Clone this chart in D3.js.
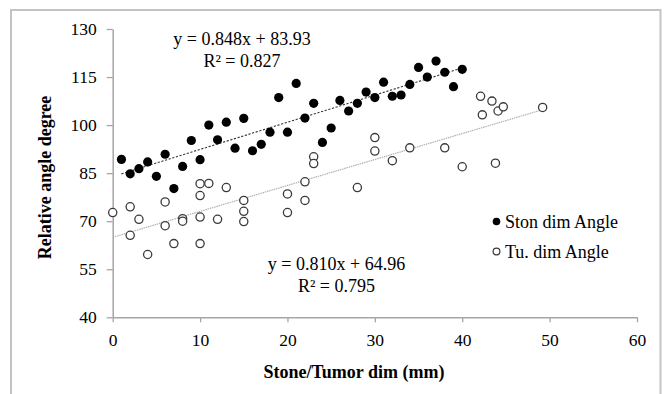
<!DOCTYPE html>
<html>
<head>
<meta charset="utf-8">
<script src="https://cdn.jsdelivr.net/npm/d3@7/dist/d3.min.js"></script>
<style>
  html, body { margin: 0; padding: 0; background: #fff; }
  svg { display: block; }
  text { font-family: "Liberation Serif", "Times New Roman", serif; fill: #000; }
</style>
</head>
<body>
<svg id="chart" width="665" height="394"></svg>
<script>
// ---- Data ----
const stonX = [1,2,3,4,5,6,7,8,9,10,11,12,13,14,15,16,17,18,19,20,21,22,23,24,25,26,27,28,29,30,31,32,33,34,35,36,37,38,39,40];
const stonY = [89.3,84.8,86.4,88.5,84.0,90.9,80.2,87.1,95.2,89.2,100.0,95.4,100.9,92.8,102.1,92.0,94.0,97.8,108.6,97.8,113.0,102.2,106.8,94.6,99.1,107.7,104.4,106.8,110.3,108.6,113.4,109.0,109.4,112.7,118.0,115.0,120.0,116.5,112.0,117.4];
const tuX = [0,2,2,3,4,6,6,7,8,8,10,10,10,10,11,12,13,15,15,15,20,20,22,22,23,23,28,30,30,32,34,38,40,42.1,42.3,43.4,43.8,44.1,44.7,49.2];
const tuY = [72.7,74.5,65.6,70.6,59.6,76.0,68.6,63.0,70.8,70.0,81.7,78.0,71.3,63.0,81.8,70.6,80.5,76.5,73.1,69.9,78.5,72.7,82.3,76.5,90.1,88.0,80.5,96.1,91.9,88.9,92.9,92.9,87.0,109.0,103.2,107.5,88.1,104.4,105.7,105.5];
const seriesNames = ["Ston dim Angle", "Tu. dim Angle"];
const trendSlope = [0.848, 0.810];
const trendIntercept = [83.93, 64.96];
const trendLabels = ["y = 0.848x + 83.93", "y = 0.810x + 64.96"];
const r2Labels = ["R\u00B2 = 0.827", "R\u00B2 = 0.795"];
const xTicks = [0,10,20,30,40,50,60];
const yTicks = [40,55,70,85,100,115,130];
const xTitle = "Stone/Tumor dim (mm)";
const yTitle = "Relative angle degree";

// ---- Layout ----
const svg = d3.select("#chart");
const L = 112.7, R = 637, T = 29, B = 317.3;
const x = d3.scaleLinear().domain([0, 60]).range([L, R]);
const y = d3.scaleLinear().domain([40, 130]).range([B, T]);
const serif = '"Liberation Serif", "Times New Roman", serif';

// outer border
svg.append("rect").attr("x", 11).attr("y", 10).attr("width", 649.5).attr("height", 400)
  .attr("fill", "none").attr("stroke", "#c3c3c3").attr("stroke-width", 2);

const axisColor = "#a6a6a6";
// x axis
const gx = svg.append("g").attr("transform", `translate(0,${B})`)
  .call(d3.axisBottom(x).tickValues(xTicks).tickSize(5).tickSizeOuter(0).tickPadding(11));
// y axis
const gy = svg.append("g").attr("transform", `translate(${L},0)`)
  .call(d3.axisLeft(y).tickValues(yTicks).tickSize(6).tickSizeOuter(0).tickPadding(10));
[gx, gy].forEach(g => {
  g.attr("font-family", null);
  g.select(".domain").attr("stroke", axisColor).attr("stroke-width", 1.5);
  g.selectAll(".tick line").attr("stroke", axisColor).attr("stroke-width", 1.3);
  g.selectAll(".tick text").style("font-family", serif).style("font-size", "17.5px").attr("fill", "#000");
});

// trend lines
const extents = [d3.extent(stonX), d3.extent(tuX)];
const trendStyles = [
  {stroke: "#333", dash: "2.2,1.6", width: 1.1},
  {stroke: "#b0b0b0", dash: "1.5,0.8", width: 1.2}
];
[0,1].forEach(i => {
  const ext = extents[i];
  svg.append("line")
    .attr("x1", x(ext[0])).attr("y1", y(trendSlope[i]*ext[0] + trendIntercept[i]))
    .attr("x2", x(ext[1])).attr("y2", y(trendSlope[i]*ext[1] + trendIntercept[i]))
    .attr("stroke", trendStyles[i].stroke).attr("stroke-width", trendStyles[i].width)
    .attr("stroke-dasharray", trendStyles[i].dash);
});

// points
const tuData = tuX.map((d, i) => [d, tuY[i]]);
const stonData = stonX.map((d, i) => [d, stonY[i]]);
svg.append("g").selectAll("circle").data(tuData).join("circle")
  .attr("cx", d => x(d[0])).attr("cy", d => y(d[1])).attr("r", 4.1)
  .attr("fill", "#fff").attr("stroke", "#3a3a3a").attr("stroke-width", 1.3);
svg.append("g").selectAll("circle").data(stonData).join("circle")
  .attr("cx", d => x(d[0])).attr("cy", d => y(d[1])).attr("r", 4.6)
  .attr("fill", "#000");

// equation labels
const eqPos = [[242, 45.3, 67], [336.5, 270.3, 291.7]];
[0,1].forEach(i => {
  svg.append("text").attr("x", eqPos[i][0]).attr("y", eqPos[i][1]).attr("text-anchor", "middle")
    .style("font-size", "18px").text(trendLabels[i]);
  svg.append("text").attr("x", eqPos[i][0]).attr("y", eqPos[i][2]).attr("text-anchor", "middle")
    .style("font-size", "18px").text(r2Labels[i]);
});

// legend
const legY = [221.5, 251.5];
svg.append("circle").attr("cx", 496.5).attr("cy", legY[0]).attr("r", 3.8).attr("fill", "#000");
svg.append("circle").attr("cx", 496.5).attr("cy", legY[1]).attr("r", 3.4).attr("fill", "#fff")
  .attr("stroke", "#3a3a3a").attr("stroke-width", 1.2);
[0,1].forEach(i => {
  svg.append("text").attr("x", 505).attr("y", legY[i] + 6).style("font-size", "18px").text(seriesNames[i]);
});

// axis titles
svg.append("text").attr("x", 354).attr("y", 377.5).attr("text-anchor", "middle")
  .style("font-size", "18px").style("font-weight", "bold").text(xTitle);
svg.append("text").attr("transform", "translate(50.5,177.5) rotate(-90)").attr("text-anchor", "middle")
  .style("font-size", "18px").style("font-weight", "bold").text(yTitle);
</script>
</body>
</html>
